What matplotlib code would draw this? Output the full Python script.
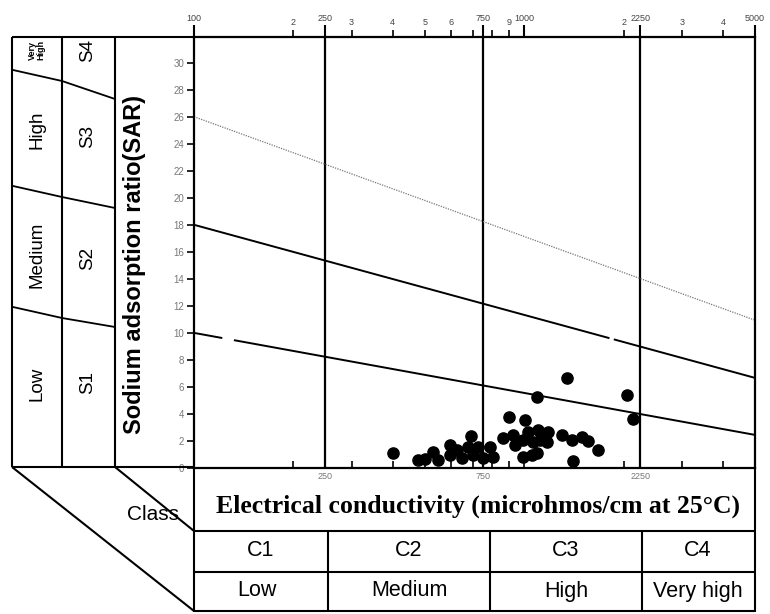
import numpy as np
import matplotlib
matplotlib.use("Agg")
import matplotlib.pyplot as plt

plt.rcParams['font.family'] = ['Liberation Sans', 'DejaVu Sans']

# water samples: electrical conductivity (microhmos/cm) and SAR
ec = [400, 688, 478, 501, 531, 549, 596, 596, 625, 647, 677, 700, 724, 750, 788, 804,
      864, 901, 1005, 927, 938, 994, 1029, 1065, 1103, 1116, 1183, 1170, 994, 1054,
      1091, 1096, 1345, 1299, 1393, 1493, 1563, 1677, 1408, 2043, 2140]
sar = [1.13, 2.37, 0.59, 0.67, 1.21, 0.59, 1.70, 0.96, 1.33, 0.74, 1.58, 0.96, 1.58, 0.74, 1.58, 0.84,
       2.2, 3.8, 3.56, 2.44, 1.70, 2.07, 2.69, 1.95, 2.81, 2.07, 2.69, 1.95, 0.84, 0.96,
       1.09, 5.28, 6.64, 2.44, 2.07, 2.32, 2.02, 1.33, 0.54, 5.41, 3.6]

# salinity class limits and sodium hazard boundaries (SAR at EC=100 and EC=5000)
ec_limits = [250, 750, 2250]
ec_ends = [100, 5000]
s1_s2 = [10.0, 2.45]
s2_s3 = [18.0, 6.67]
s3_s4 = [26.0, 10.94]
s1_s2_gap = [121, 133]
s2_s3_gap = [1800, 1880]

top_ticks = [100, 250, 750, 1000, 2250, 5000]
top_labels = ['100', '250', '750', '1000', '2250', '5000']
top_minor = [200, 300, 400, 500, 600, 700, 800, 900, 2000, 3000, 4000]
top_minor_labels = ['2', '3', '4', '5', '6', '', '', '9', '2', '3', '4']
bottom_labels = ['250', '750', '2250']

sodium_names = ['Low', 'Medium', 'High']
sodium_classes = ['S1', 'S2', 'S3', 'S4']
salinity_classes = ['C1', 'C2', 'C3', 'C4']
salinity_names = ['Low', 'Medium', 'High', 'Very high']

W, H = 770, 614
fig = plt.figure(figsize=(W / 100, H / 100), dpi=100)

# main plot area
ax = fig.add_axes([194 / W, 1 - 468 / H, (755 - 194) / W, (468 - 37) / H])
ax.set_xscale('log')
ax.set_xlim(100, 5000)
ax.set_ylim(0, 31.9)

for e in ec_limits:
    ax.axvline(e, color='black', lw=1.6, zorder=2)


def boundary(vals, gap=None, **kw):
    if gap is None:
        ax.plot(ec_ends, vals, **kw)
        return
    v = np.interp(np.log10(gap), np.log10(ec_ends), vals)
    ax.plot([ec_ends[0], gap[0]], [vals[0], v[0]], **kw)
    ax.plot([gap[1], ec_ends[1]], [v[1], vals[1]], **kw)


boundary(s1_s2, s1_s2_gap, color='black', lw=1.4)
boundary(s2_s3, s2_s3_gap, color='black', lw=1.4)
boundary(s3_s4, None, color='#777777', lw=0.9, ls=(0, (1, 1)))

ax.scatter(ec, sar, s=65, color='black', zorder=3, clip_on=False)

for sp in ax.spines.values():
    sp.set_linewidth(1.6)

ax.set_yticks(range(0, 31, 2))
ax.tick_params(axis='y', direction='out', length=5, width=1.2, labelsize=7,
               labelcolor='#777777', pad=2)
ax.set_xticks(ec_limits, bottom_labels)
ax.set_xticks(top_minor + [1000], [''] * (len(top_minor) + 1), minor=True)
ax.tick_params(axis='x', which='both', direction='in', length=5, width=1.2,
               labelsize=6.5, labelcolor='#777777', pad=3)

ax_top = ax.twiny()
ax_top.set_xscale('log')
ax_top.set_xlim(100, 5000)
ax_top.set_xticks(top_ticks, top_labels)
ax_top.set_xticks(top_minor, top_minor_labels, minor=True)
ax_top.tick_params(axis='x', which='major', direction='out', length=9, width=1.5,
                   labelsize=6.5, labelcolor='#444444', pad=1)
ax_top.tick_params(axis='x', which='minor', direction='out', length=5, width=1.2,
                   labelsize=6.5, labelcolor='#444444', pad=2)
for sp in ax_top.spines.values():
    sp.set_visible(False)

# frame of class boxes around the plot, in pixel coordinates
ov = fig.add_axes([0, 0, 1, 1])
ov.set_xlim(0, W)
ov.set_ylim(H, 0)
ov.axis('off')
lk = dict(color='black', lw=1.5, clip_on=False, solid_capstyle='butt')

ov.plot([12, 194], [37, 37], **lk)
ov.plot([12, 194], [467, 467], **lk)
for x in [12, 62, 115]:
    ov.plot([x, x], [37, 467], **lk)
ov.plot([194, 194], [467, 612], **lk)
ov.plot([755, 755], [467, 612], **lk)
for y in [531, 572, 611]:
    ov.plot([194, 755], [y, y], **lk)
for x in [328, 490, 642]:
    ov.plot([x, x], [531, 611], **lk)
ov.plot([12, 194], [467, 611], **lk)
ov.plot([115, 194], [467, 531], **lk)

for ys in [(70, 81, 99), (186, 197, 208), (307, 318, 327)]:
    ov.plot([13, 62, 115], ys, color='black', lw=1.3, clip_on=False)

for name, y in zip(sodium_names, [384, 255, 130]):
    ov.text(37, y, name, rotation=90, ha='center', va='center', fontsize=13.5)
ov.text(37, 50, 'Very\nHigh', rotation=90, ha='center', va='center', fontsize=6.5,
        fontweight='bold', linespacing=0.9)
for name, y in zip(sodium_classes, [383, 258, 137, 50]):
    ov.text(88, y, name, rotation=90, ha='center', va='center', fontsize=13.5)

ov.text(135, 264, 'Sodium adsorption ratio(SAR)', rotation=90, ha='center', va='center',
        fontsize=17, fontweight='bold')
ov.text(153, 515, 'Class', ha='center', va='center', fontsize=15)
ov.text(478, 506, 'Electrical conductivity (microhmos/cm at 25\u00b0C)', ha='center', va='center',
        fontsize=18.5, fontweight='bold', family=['Liberation Serif', 'DejaVu Serif'])

for name, x in zip(salinity_classes, [261, 409, 566, 698]):
    ov.text(x, 550, name, ha='center', va='center', fontsize=15.5)
for name, x in zip(salinity_names, [257, 409, 566, 698]):
    ov.text(x, 591, name, ha='center', va='center', fontsize=15.5)

fig.savefig('out.png', dpi=100)
